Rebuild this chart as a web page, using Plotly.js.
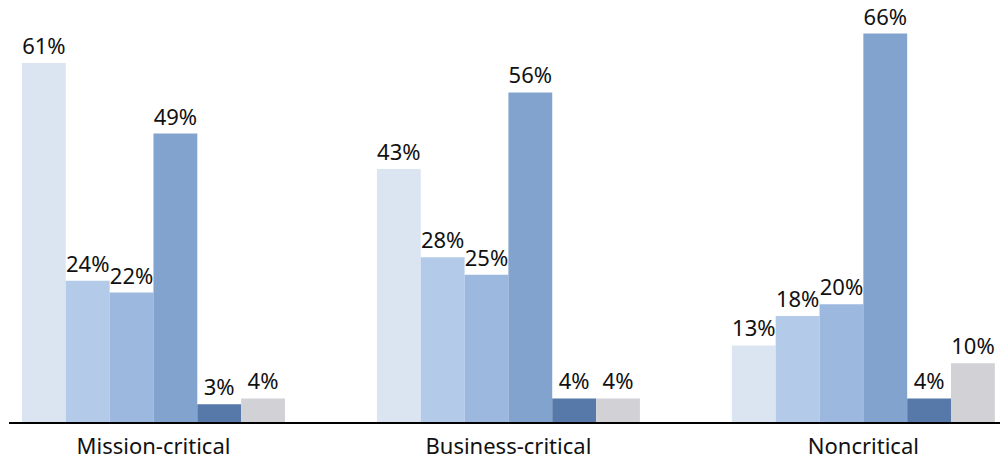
<!DOCTYPE html>
<html>
<head>
<meta charset="utf-8">
<script src="https://cdn.plot.ly/plotly-3.0.1.min.js"></script>
<style>html,body{margin:0;padding:0;background:#fff;}#chart{width:1000px;height:459px;}</style>
</head>
<body>
<div id="chart"></div>
<script>
const categories = ["Mission-critical", "Business-critical", "Noncritical"];
const series1 = [61, 43, 13];
const series2 = [24, 28, 18];
const series3 = [22, 25, 20];
const series4 = [49, 56, 66];
const series5 = [3, 4, 4];
const series6 = [4, 4, 10];
const seriesValues = [series1, series2, series3, series4, series5, series6];
const colors = ["#dae5f1", "#b3cbe9", "#9cb8df", "#82a3ce", "#5779a9", "#d2d2d6"];

const traces = seriesValues.map((vals, i) => ({
  type: "bar",
  x: categories,
  y: vals,
  marker: {color: colors[i], line: {width: 0}},
  texttemplate: "%{y}%",
  textposition: "outside",
  constraintext: "none",
  textfont: {family: "Noto Sans, sans-serif", size: 22, color: "#111"},
  cliponaxis: false,
  hoverinfo: "none",
  showlegend: false
}));

const layout = {
  width: 1000, height: 459,
  margin: {l: 9, r: 0, t: 0, b: 37},
  paper_bgcolor: "#fff", plot_bgcolor: "#fff",
  barmode: "group",
  bargap: 0.259,
  bargroupgap: 0,
  font: {family: "Noto Sans, sans-serif", size: 22, color: "#111"},
  xaxis: {
    type: "category",
    range: [-0.407, 2.385],
    showline: true, linecolor: "#000", linewidth: 2,
    ticks: "", showgrid: false, zeroline: false,
    tickfont: {family: "Noto Sans, sans-serif", size: 22, color: "#111"},
    ticklabelstandoff: 4
  },
  yaxis: {
    range: [0, 71.7],
    visible: false, showgrid: false, zeroline: false
  },
  uniformtext: {mode: false}
};

Plotly.newPlot("chart", traces, layout, {displayModeBar: false, staticPlot: true});
</script>
</body>
</html>
